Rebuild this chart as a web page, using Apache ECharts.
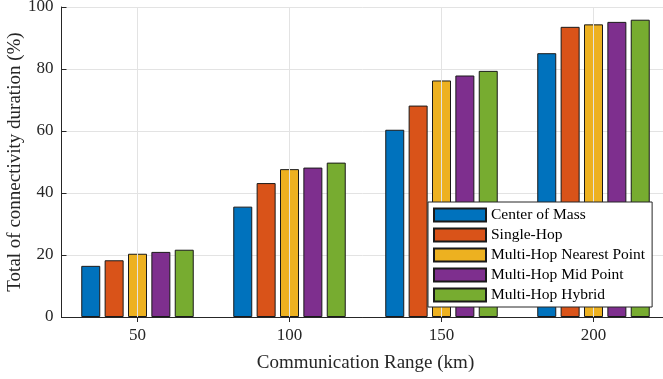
<!DOCTYPE html>
<html>
<head>
<meta charset="utf-8">
<script src="https://cdn.jsdelivr.net/npm/echarts@6/dist/echarts.min.js"></script>
<style>
  html, body { margin: 0; padding: 0; background: #fff; }
  #chart { width: 663px; height: 379px; }
</style>
</head>
<body>
<div id="chart"></div>
<script>
// Communication range groups (km)
const ranges = ['50', '100', '150', '200'];
const yTicks = [0, 20, 40, 60, 80, 100];

// Connectivity duration (%) per strategy
const centerOfMass       = [16.5, 35.6, 60.4, 85.1];
const singleHop          = [18.3, 43.2, 68.2, 93.6];
const multiHopNearest    = [20.4, 47.7, 76.3, 94.4];
const multiHopMid        = [21.0, 48.2, 77.9, 95.2];
const multiHopHybrid     = [21.7, 49.8, 79.4, 95.9];

const seriesNames = ['Center of Mass', 'Single-Hop', 'Multi-Hop Nearest Point', 'Multi-Hop Mid Point', 'Multi-Hop Hybrid'];
const seriesValues = [centerOfMass, singleHop, multiHopNearest, multiHopMid, multiHopHybrid];
const colors = ['#0072BD', '#D95319', '#EDB120', '#7E2F8E', '#77AC30'];

const font = 'Liberation Serif';
const axisColor = '#262626';
const gridColor = '#e3e3e3';

const chart = echarts.init(document.getElementById('chart'), null, { renderer: 'canvas' });

const series = seriesNames.map((name, i) => ({
  name: name,
  type: 'bar',
  data: seriesValues[i],
  barWidth: 19,
  barGap: '23%',
  itemStyle: { color: colors[i], borderColor: '#1a1a1a', borderWidth: 1 },
  emphasis: { disabled: true },
  z: 3
}));

// vertical grid lines through each range group, behind the bars
series.push({
  name: 'xgrid',
  type: 'line',
  data: [],
  silent: true,
  z: 1,
  markLine: {
    silent: true,
    symbol: 'none',
    animation: false,
    label: { show: false },
    lineStyle: { color: gridColor, width: 1, type: 'solid' },
    emphasis: { disabled: true },
    data: ranges.map(r => ({ xAxis: r }))
  }
});

chart.setOption({
  animation: false,
  color: colors,
  grid: { left: 61.5, width: 608, top: 7, bottom: 62, containLabel: false, outerBoundsMode: 'none' },
  legend: {
    orient: 'vertical',
    left: 428,
    top: 202,
    padding: [5, 7, 4, 5],
    itemWidth: 52,
    itemHeight: 13,
    itemGap: 4,
    icon: 'rect',
    backgroundColor: '#ffffff',
    borderColor: axisColor,
    borderWidth: 1,
    textStyle: { fontFamily: font, fontSize: 15.5, color: '#000', lineHeight: 15 },
    data: seriesNames,
    z: 10
  },
  xAxis: [
    {
      type: 'category',
      data: ranges,
      position: 'bottom',
      name: 'Communication Range (km)',
      nameLocation: 'middle',
      nameMoveOverlap: false,
      nameGap: 37,
      nameTextStyle: { fontFamily: font, fontSize: 19, color: '#262626' },
      axisLine: { show: true, lineStyle: { color: axisColor, width: 1 } },
      axisTick: { show: true, inside: true, alignWithLabel: true, length: 5, lineStyle: { color: axisColor } },
      axisLabel: { fontFamily: font, fontSize: 17, color: '#262626', margin: 10 },
      splitLine: { show: false }
    },
    {
      type: 'category',
      data: ranges,
      position: 'top',
      axisLine: { show: true, lineStyle: { color: axisColor, width: 1 } },
      axisTick: { show: true, inside: true, alignWithLabel: true, length: 5, lineStyle: { color: axisColor } },
      axisLabel: { show: false },
      splitLine: { show: false }
    }
  ],
  yAxis: [
    {
      type: 'value',
      min: yTicks[0],
      max: yTicks[yTicks.length - 1],
      interval: 20,
      position: 'left',
      name: 'Total of connectivity duration (%)',
      nameLocation: 'middle',
      nameMoveOverlap: false,
      nameGap: 37,
      nameTextStyle: { fontFamily: font, fontSize: 19, color: '#262626' },
      axisLine: { show: true, lineStyle: { color: axisColor, width: 1 } },
      axisTick: { show: true, inside: true, length: 5, lineStyle: { color: axisColor } },
      axisLabel: { fontFamily: font, fontSize: 17, color: '#262626', margin: 8 },
      splitLine: { show: true, lineStyle: { color: gridColor, width: 1 } }
    },
    {
      type: 'value',
      min: yTicks[0],
      max: yTicks[yTicks.length - 1],
      interval: 20,
      position: 'right',
      axisLine: { show: true, lineStyle: { color: axisColor, width: 1 } },
      axisTick: { show: true, inside: true, length: 5, lineStyle: { color: axisColor } },
      axisLabel: { show: false },
      splitLine: { show: false }
    }
  ],
  series: series
});
</script>
</body>
</html>
